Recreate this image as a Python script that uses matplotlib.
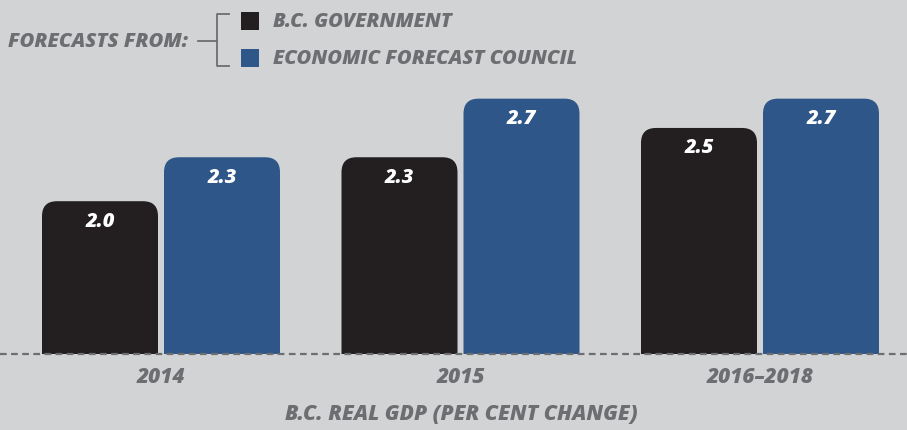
import matplotlib.pyplot as plt
from matplotlib.patches import FancyBboxPatch, Rectangle
from matplotlib.lines import Line2D
import numpy as np

# data
categories = ["2014", "2015", "2016\u20132018"]
bc_government = [2.0, 2.3, 2.5]
econ_council = [2.3, 2.7, 2.7]
series_names = ["B.C. GOVERNMENT", "ECONOMIC FORECAST COUNCIL"]

BG = "#d1d3d4"
BLACK = "#231f20"
BLUE = "#2f5689"
GREY = "#6d6e71"
FONT = ["Open Sans", "DejaVu Sans"]
WT = 800

W, H = 907, 431
fig = plt.figure(figsize=(W / 100, H / 100), dpi=100, facecolor=BG)

# axes placed in pixels: baseline 355px from top, top of axes at 80px
base_px, top_px = 355, 80
ax = fig.add_axes([0, (H - base_px) / H, 1, (base_px - top_px) / H])
ax.set_facecolor(BG)

px_per_x = 299.5
px_per_y = 146.5
x_first = 161
y0 = 0.957
ax.set_xlim(-x_first / px_per_x, (W - x_first) / px_per_x)
ax.set_ylim(y0, y0 + (base_px - top_px) / px_per_y)

x = np.arange(len(categories))
bw = 116 / px_per_x
off = 61 / px_per_x

bars1 = ax.bar(x - off, bc_government, bw, color=BLACK)
bars2 = ax.bar(x + off, econ_council, bw, color=BLUE)

# swap plain bars for rounded ones
r = 15 / px_per_x
aspect = px_per_x / px_per_y
for bars, col in [(bars1, BLACK), (bars2, BLUE)]:
    for b in bars:
        b.set_visible(False)
        p = FancyBboxPatch((b.get_x(), 0), b.get_width(), b.get_height(),
                           boxstyle=f"round,pad=0,rounding_size={r}",
                           mutation_aspect=aspect, facecolor=col,
                           edgecolor="none")
        ax.add_patch(p)
        ax.annotate(f"{b.get_height():.1f}",
                    (b.get_x() + b.get_width() / 2, b.get_height()),
                    xytext=(0, -14), textcoords="offset points",
                    ha="center", va="center", color="white",
                    fontsize=14.5, fontweight=WT, style="italic",
                    family=FONT)

ax.axhline(y0, color=GREY, lw=1.6, dashes=(3, 2), clip_on=False, zorder=5)

ax.set_xticks(x)
ax.set_xticklabels(categories, color=GREY, fontsize=15, fontweight=WT,
                   style="italic", family=FONT)
ax.tick_params(axis="x", length=0, pad=9)
ax.set_yticks([])
for s in ax.spines.values():
    s.set_visible(False)


def fy(py):
    return (H - py) / H


fig.text(461 / W, fy(415), "B.C. REAL GDP (PER CENT CHANGE)", ha="center",
         va="center", color=GREY, fontsize=15.2, fontweight=WT,
         style="italic", family=FONT)

# legend with bracket
fig.text(8 / W, fy(42), "FORECASTS FROM:", ha="left", va="center",
         color=GREY, fontsize=14.6, fontweight=WT, style="italic",
         family=FONT)
lk = dict(color=GREY, lw=1.3, transform=fig.transFigure)
fig.add_artist(Line2D([198 / W, 217 / W], [fy(42), fy(42)], **lk))
fig.add_artist(Line2D([229 / W, 217 / W, 217 / W, 229 / W],
                      [fy(15), fy(15), fy(67), fy(67)], **lk))
for yy, col, name in [(22, BLACK, series_names[0]), (59, BLUE, series_names[1])]:
    fig.add_artist(Rectangle((241 / W, fy(yy + 9)), 18 / W, 18 / H,
                             facecolor=col, edgecolor="none",
                             transform=fig.transFigure))
    fig.text(273 / W, fy(yy), name, ha="left", va="center", color=GREY,
             fontsize=14.5, fontweight=WT, style="italic", family=FONT)

fig.savefig("out.png", dpi=100, facecolor=BG)
